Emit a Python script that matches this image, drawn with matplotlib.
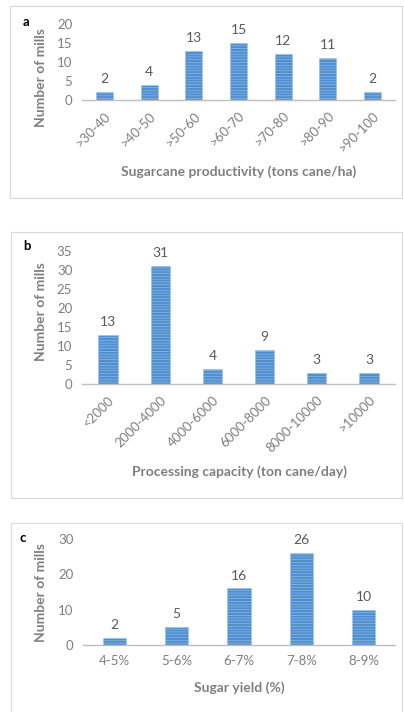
import matplotlib
matplotlib.use('Agg')
import matplotlib.pyplot as plt
from matplotlib.patches import Rectangle

plt.rcParams['font.family'] = ['Lato', 'DejaVu Sans']
plt.rcParams['hatch.linewidth'] = 0.4

# panel a
prod_labels = ['>30-40', '>40-50', '>50-60', '>60-70', '>70-80', '>80-90', '>90-100']
prod_counts = [2, 4, 13, 15, 12, 11, 2]
# panel b
cap_labels = ['<2000', '2000-4000', '4000-6000', '6000-8000', '8000-10000', '>10000']
cap_counts = [13, 31, 4, 9, 3, 3]
# panel c
yield_labels = ['4-5%', '5-6%', '6-7%', '7-8%', '8-9%']
yield_counts = [2, 5, 16, 26, 10]

W, H = 404, 712
BAR = '#4f8fd0'
GRAY = '#7f7f7f'

fig = plt.figure(figsize=(W / 100, H / 100), dpi=100)


def px_axes(left, top, right, bottom):
    return fig.add_axes([left / W, 1 - bottom / H, (right - left) / W, (bottom - top) / H])


def frame(left, top, right, bottom):
    fig.patches.append(Rectangle((left / W, 1 - bottom / H), (right - left) / W, (bottom - top) / H,
                                 transform=fig.transFigure, fill=False, edgecolor='#d9d9d9', lw=0.8))


def panel(ax, labels, counts, ymax, step, rot, xlabel, letter, lx, ly, ylab_y, xlab_y, width):
    x = range(len(labels))
    ax.bar(x, counts, width=width, color=BAR, edgecolor='#9cc3e8', linewidth=0.4, hatch='------')
    for i, v in zip(x, counts):
        ax.annotate(str(v), (i, v), xytext=(0, 5), textcoords='offset points',
                    ha='center', va='bottom', fontsize=10, color='#595959')
    ax.set_xlim(-0.5, len(labels) - 0.5)
    ax.set_ylim(0, ymax)
    ax.set_yticks(range(0, ymax + 1, step))
    ax.set_xticks(list(x))
    if rot:
        ax.set_xticklabels(labels, rotation=45, ha='right', rotation_mode='anchor')
    else:
        ax.set_xticklabels(labels)
    ax.tick_params(axis='both', length=0, labelsize=9.5, colors=GRAY, pad=7)
    for s in ['top', 'right', 'left']:
        ax.spines[s].set_visible(False)
    ax.spines['bottom'].set_color('#bfbfbf')
    ax.spines['bottom'].set_linewidth(1.0)
    ax.patch.set_alpha(0)
    fig.text(lx / W, 1 - ly / H, letter, fontsize=9.5, fontweight='bold', color='black', ha='left', va='center')
    fig.text(41 / W, 1 - ylab_y / H, 'Number of mills', rotation=90, fontsize=10, fontweight='bold',
             color=GRAY, ha='center', va='center')
    fig.text(239 / W, 1 - xlab_y / H, xlabel, fontsize=10, fontweight='bold', color=GRAY,
             ha='center', va='center')


frame(10, 6, 402, 198)
frame(11, 232, 402, 498)
frame(11, 523, 402, 730)

ax1 = px_axes(82, 24, 395, 100)
panel(ax1, prod_labels, prod_counts, 20, 5, True, 'Sugarcane productivity (tons cane/ha)',
      'a', 23, 22, 78, 172, 0.38)

ax2 = px_axes(82, 251, 395, 384)
panel(ax2, cap_labels, cap_counts, 35, 5, True, 'Processing capacity (ton cane/day)',
      'b', 23, 246, 312, 472, 0.37)

ax3 = px_axes(83, 539, 395, 645)
panel(ax3, yield_labels, yield_counts, 30, 10, False, 'Sugar yield (%)',
      'c', 20, 538, 593, 688, 0.37)

fig.savefig('out.png', dpi=100)
